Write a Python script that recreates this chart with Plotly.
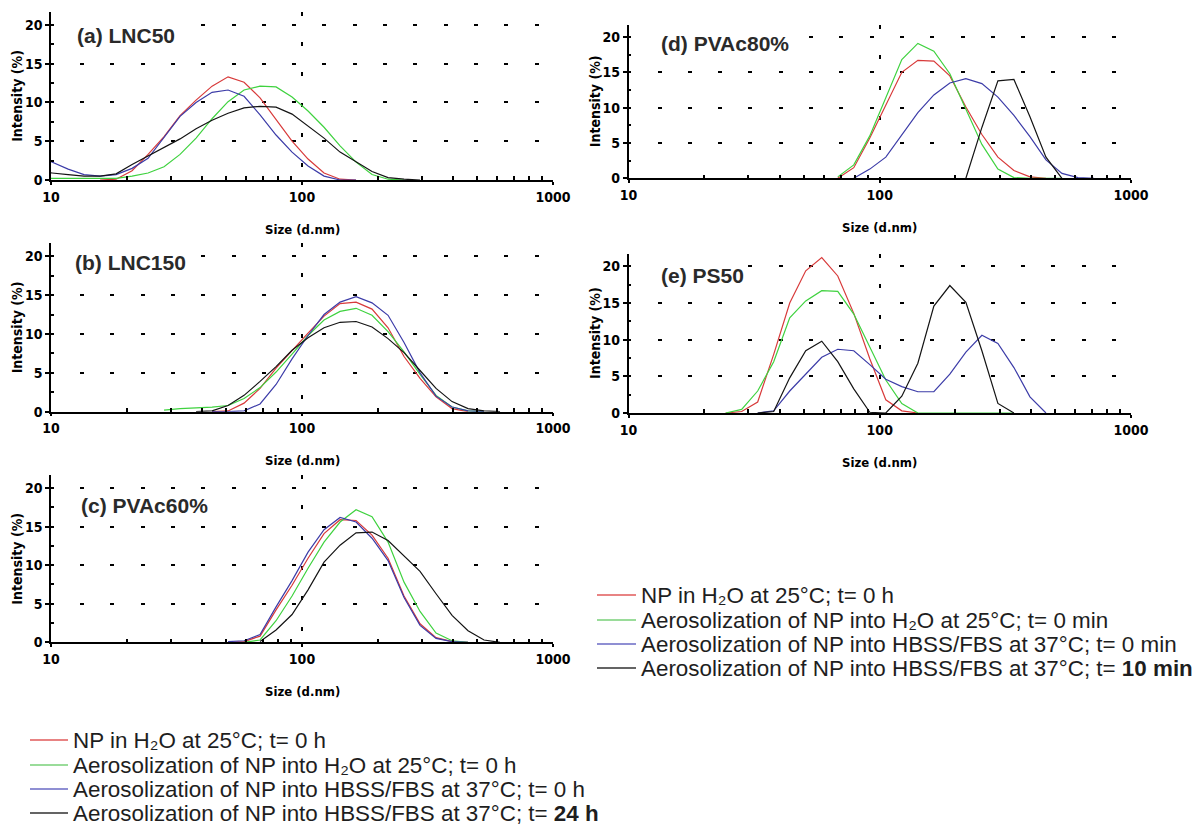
import plotly.graph_objects as go

N = None
# DLS size bins (nm)
sizes_nm = [8.721, 10.10, 11.70, 13.54, 15.69, 18.17, 21.04, 24.36, 28.21, 32.67, 37.84,
            43.82, 50.75, 58.77, 68.06, 78.82, 91.28, 105.7, 122.4, 141.8, 164.2, 190.1,
            220.2, 255.0, 295.3, 342.0, 396.1, 458.7, 531.2, 615.1, 712.4]

# (a) LNC50
red_a = [N, N, N, N, 0.0, 0.1, 1.2, 3.3, 5.6, 8.3, 10.3, 12.1, 13.3, 12.6, 10.6, 7.8, 5.0, 2.7, 0.9, 0.1, 0.0,
         N, N, N, N, N, N, N, N, N, N]
green_a = [0.2, 0.2, 0.2, 0.2, 0.2, 0.2, 0.5, 0.9, 1.7, 3.3, 5.4, 7.9, 10.1, 11.6, 12.1, 12.0, 10.7, 8.9, 6.8,
           4.4, 2.3, 0.7, 0.1, 0.0, N, N, N, N, N, N, N]
blue_a = [3.2, 2.3, 1.4, 0.7, 0.5, 0.7, 1.5, 2.8, 5.5, 8.2, 10.0, 11.3, 11.6, 10.8, 8.4, 5.8, 3.6, 1.8, 0.5,
          0.0, 0.0, N, N, N, N, N, N, N, N, N, N]
black_a = [1.0, 0.9, 0.7, 0.5, 0.5, 0.8, 2.0, 3.1, 4.1, 5.3, 6.6, 7.7, 8.6, 9.3, 9.5, 9.4, 8.5, 6.9, 5.4,
           3.6, 2.3, 1.1, 0.3, 0.1, 0.0, N, N, N, N, N, N]

# (b) LNC150
red_b = [N, N, N, N, N, N, N, N, N, N, N, 0.0, 0.1, 1.1, 3.0, 5.6, 7.9, 10.1, 12.3, 13.9, 14.1, 13.2,
         10.8, 7.1, 4.3, 1.9, 0.4, 0.0, N, N, N]
green_b = [N, N, N, N, N, N, N, N, 0.2, 0.4, 0.5, 0.6, 0.8, 1.7, 3.1, 5.1, 7.4, 9.8, 11.8, 12.9, 13.3,
           12.4, 10.3, 7.7, 4.8, 2.1, 0.6, 0.1, 0.0, N, N]
blue_b = [N, N, N, N, N, N, N, N, N, N, N, 0.0, 0.0, 0.1, 1.0, 3.5, 6.8, 9.8, 12.5, 14.1, 14.8, 14.0,
          12.4, 8.9, 5.0, 2.0, 0.6, 0.1, 0.0, N, N]
black_b = [N, N, N, N, N, N, N, N, N, N, 0.0, 0.1, 0.8, 2.1, 3.9, 5.8, 7.9, 9.5, 10.8, 11.5, 11.6, 10.9,
           9.4, 7.6, 5.3, 3.0, 1.3, 0.4, 0.1, 0.0, N]

# (c) PVAc60%
red_c = [N, N, N, N, N, N, N, N, N, N, N, N, 0.0, 0.1, 0.8, 4.2, 7.4, 10.9, 14.1, 15.9, 15.8, 13.9,
         10.9, 6.0, 2.4, 0.6, 0.1, 0.0, N, N, N]
green_c = [N, N, N, N, N, N, N, N, N, N, N, N, N, 0.0, 0.3, 2.8, 6.0, 9.6, 13.0, 15.6, 17.2, 16.3,
           13.0, 7.8, 4.0, 1.2, 0.2, 0.0, N, N, N]
blue_c = [N, N, N, N, N, N, N, N, N, N, N, N, 0.1, 0.2, 1.0, 4.6, 8.0, 11.7, 14.6, 16.2, 15.6, 13.5,
          10.6, 5.8, 2.2, 0.5, 0.1, 0.0, N, N, N]
black_c = [N, N, N, N, N, N, N, N, N, N, N, N, N, N, 0.1, 1.6, 3.6, 6.8, 10.4, 12.6, 14.2, 14.3,
           13.2, 11.2, 9.2, 6.3, 3.5, 1.5, 0.3, 0.0, N]

# (d) PVAc80%
red_d = [N, N, N, N, N, N, N, N, N, N, N, N, N, N, 0.0, 1.5, 5.7, 10.4, 15.0, 16.7, 16.6, 14.5,
         10.1, 6.2, 3.0, 1.1, 0.2, 0.0, N, N, N]
green_d = [N, N, N, N, N, N, N, N, N, N, N, N, N, N, 0.2, 1.9, 6.0, 11.3, 16.8, 19.1, 18.0, 14.8,
           9.8, 4.8, 1.3, 0.1, 0.0, 0.0, 0.0, N, N]
blue_d = [N, N, N, N, N, N, N, N, N, N, N, N, N, N, N, 0.0, 1.3, 3.0, 6.2, 9.3, 11.8, 13.5,
          14.1, 13.4, 11.5, 8.9, 5.9, 2.6, 0.7, 0.1, 0.0]
black_d = [N, N, N, N, N, N, N, N, N, N, N, N, N, N, N, N, N, N, N, N, N, N,
           0.0, 7.2, 13.8, 14.0, 8.7, 3.0, 0.0, N, N]

# (e) PS50
red_e = [N, N, N, N, N, N, N, 0.0, 0.2, 1.5, 8.0, 15.0, 19.4, 21.2, 18.7, 13.6, 7.4, 1.8, 0.3, 0.0,
         N, N, N, N, N, N, N, N, N, N, N]
green_e = [N, N, N, N, N, N, N, 0.0, 0.5, 3.0, 7.0, 13.0, 15.3, 16.7, 16.6, 13.5, 9.0, 4.5, 1.3, 0.0,
           0.0, 0.0, 0.0, 0.0, 0.0, 0.0, N, N, N, N, N]
blue_e = [N, N, N, N, N, N, N, N, N, 0.0, 0.3, 3.0, 5.3, 7.6, 8.7, 8.5, 6.6, 4.6, 3.6, 2.9, 2.9, 5.3,
          8.3, 10.6, 9.5, 6.2, 2.2, 0.0, N, N, N]
black_e = [N, N, N, N, N, N, N, N, N, 0.0, 0.2, 4.8, 8.5, 9.8, 7.0, 3.3, 0.1, 0.0, 2.3, 6.8, 14.6,
           17.4, 15.1, 8.5, 1.3, 0.0, N, N, N, N, N]

panel_titles = ["(a) LNC50", "(b) LNC150", "(c) PVAc60%", "(d) PVAc80%", "(e) PS50"]
y_ticks = [0, 5, 10, 15, 20]
x_ticks = [10, 100, 1000]
x_minor = [20, 30, 40, 50, 60, 70, 80, 90, 200, 300, 400, 500, 600, 700, 800, 900]
y_minor = [2.5, 7.5, 12.5, 17.5]
x_title = "Size (d.nm)"
y_title = "Intensity (%)"

legend_left = ["NP in H₂O at 25°C; t= 0 h",
               "Aerosolization of NP into H₂O at 25°C; t= 0 h",
               "Aerosolization of NP into HBSS/FBS at 37°C; t= 0 h",
               "Aerosolization of NP into HBSS/FBS at 37°C; t= <b>24 h</b>"]
legend_right = ["NP in H₂O at 25°C; t= 0 h",
                "Aerosolization of NP into H₂O at 25°C; t= 0 min",
                "Aerosolization of NP into HBSS/FBS at 37°C; t= 0 min",
                "Aerosolization of NP into HBSS/FBS at 37°C; t= <b>10 min</b>"]

colors = ["#d83a3a", "#3fd23f", "#3c3ca8", "#141414"]
legend_colors = ["#e05a5a", "#78d078", "#6a6ac4", "#303030"]

# the page places the plot 8px from the top-left corner, so the figure is
# slightly smaller and all page positions are shifted by that offset
OFF = 8
W, H = 1200 - OFF, 828 - OFF
def px(x): return (x - OFF) / W
def py(y): return 1 - (y - OFF) / H

# panel geometry (page pixels): left, right, top, bottom, title x, title y
geom = [
    (51, 553, 11.7, 180.0, 73, 35),
    (51, 553, 243.0, 411.7, 71, 262),
    (51, 553, 475.0, 642.3, 77, 505),
    (628.5, 1131, 25.0, 178.3, 657, 43),
    (628.5, 1131, 254.0, 413.0, 657, 275),
]
series = [
    [red_a, green_a, blue_a, black_a],
    [red_b, green_b, blue_b, black_b],
    [red_c, green_c, blue_c, black_c],
    [red_d, green_d, blue_d, black_d],
    [red_e, green_e, blue_e, black_e],
]
names = legend_left

NARROW = "Liberation Sans Narrow, Arial Narrow, DejaVu Sans Condensed, sans-serif"
ARIAL = "Liberation Sans, Arial, sans-serif"

fig = go.Figure()
layout = dict(width=W, height=H, margin=dict(l=0, r=0, t=0, b=0, autoexpand=False),
              paper_bgcolor="white", plot_bgcolor="white", showlegend=False)
annotations = []
shapes = []

for i, (ys, g) in enumerate(zip(series, geom)):
    k = "" if i == 0 else str(i + 1)
    xa, ya = "x" + k, "y" + k
    for j, yv in enumerate(ys):
        assert len(yv) == len(sizes_nm)
        fig.add_trace(go.Scatter(x=sizes_nm, y=yv, mode="lines", xaxis=xa, yaxis=ya,
                                 line=dict(color=colors[j], width=1.2),
                                 name=names[j], connectgaps=False, hoverinfo="x+y"))
    l, r, t, b, tx, ty = g
    layout["xaxis" + k] = dict(
        domain=[px(l), px(r)], anchor=ya, type="log", range=[1, 3], automargin=False,
        showline=True, linecolor="black", linewidth=1.5,
        tickvals=x_ticks, ticktext=[str(v) for v in x_ticks], ticks="outside",
        ticklen=3, tickwidth=1.5, tickcolor="black",
        tickfont=dict(family=NARROW, size=14, color="black", weight="bold"),
        showgrid=True, gridcolor="black", gridwidth=1.5, griddash="4px,26.3px",
        minor=dict(tickvals=x_minor, ticks="inside", ticklen=4, tickwidth=1.5,
                   tickcolor="black", showgrid=False),
        zeroline=False, fixedrange=True)
    layout["yaxis" + k] = dict(
        domain=[py(b), py(t)], anchor=xa, range=[0, 21.7], automargin=False,
        showline=True, linecolor="black", linewidth=1.5,
        tickvals=y_ticks, ticks="outside", ticklen=4, tickwidth=1.5, tickcolor="black",
        tickfont=dict(family=NARROW, size=14, color="black", weight="bold"),
        showgrid=True, gridcolor="black", gridwidth=1.8, griddash="2.7px,26.3px,1.3px,0px",
        minor=dict(tickvals=y_minor, ticks="inside", ticklen=3, tickwidth=1.5,
                   tickcolor="black", showgrid=False),
        zeroline=False, fixedrange=True)
    # panel title
    annotations.append(dict(text="<b>" + panel_titles[i] + "</b>", x=px(tx), y=py(ty),
                            xref="paper", yref="paper", xanchor="left", yanchor="middle",
                            showarrow=False, bgcolor="white", borderpad=3,
                            font=dict(family=ARIAL, size=21, color="#2a2a2a")))
    # axis titles
    annotations.append(dict(text="<b>" + x_title + "</b>", x=px((l + r) / 2), y=py(b + 49),
                            xref="paper", yref="paper", xanchor="center", yanchor="middle",
                            showarrow=False, font=dict(family=NARROW, size=13, color="black")))
    annotations.append(dict(text="<b>" + y_title + "</b>", x=px(l - 34), y=py((t + b) / 2),
                            xref="paper", yref="paper", xanchor="center", yanchor="middle",
                            textangle=-90, showarrow=False,
                            font=dict(family=NARROW, size=14, color="black")))

# legends (left under panel c, right under panel e)
def add_legend(texts, x0, x1, xt, y_rows):
    for c, txt, yy in zip(legend_colors, texts, y_rows):
        shapes.append(dict(type="line", xref="paper", yref="paper",
                           x0=px(x0), x1=px(x1), y0=py(yy), y1=py(yy),
                           line=dict(color=c, width=1.3)))
        annotations.append(dict(text=txt, x=px(xt), y=py(yy), xref="paper", yref="paper",
                                xanchor="left", yanchor="middle", showarrow=False,
                                font=dict(family=ARIAL, size=22.4, color="#1e1e1e")))

add_legend(legend_left, 30, 68, 71, [740, 765, 789, 813])
add_legend(legend_right, 597, 636, 639, [595, 620, 644, 668])

layout["annotations"] = annotations
layout["shapes"] = shapes
fig.update_layout(**layout)
fig.write_html("out.html")
